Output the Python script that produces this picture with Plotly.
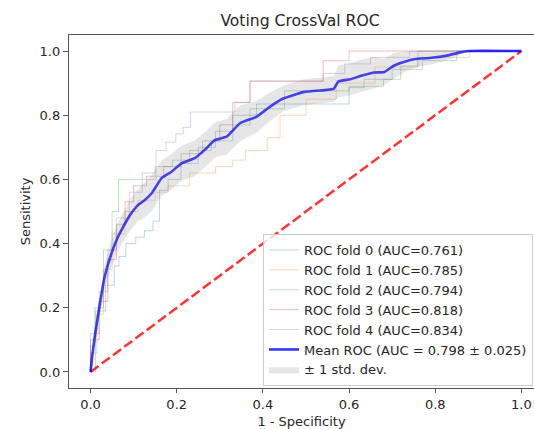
import plotly.graph_objects as go

# ---------------- data ----------------
fold_labels = ["ROC fold 0 (AUC=0.761)", "ROC fold 1 (AUC=0.785)", "ROC fold 2 (AUC=0.794)",
               "ROC fold 3 (AUC=0.818)", "ROC fold 4 (AUC=0.834)"]

fpr0 = [0, 0.012, 0.012, 0.035, 0.035, 0.055, 0.055, 0.066, 0.066, 0.082, 0.082, 0.105, 0.105, 0.125,
        0.125, 0.145, 0.145, 0.16, 0.16, 0.18, 0.18, 0.21, 0.21, 0.25, 0.25, 0.29, 0.29, 0.33, 0.33,
        0.385, 0.385, 0.60, 0.60, 0.635, 0.635, 0.70, 0.70, 0.77, 0.77, 0.85, 0.85, 1.0]
tpr0 = [0, 0, 0.19, 0.19, 0.27, 0.27, 0.33, 0.33, 0.36, 0.36, 0.40, 0.40, 0.42, 0.42, 0.44, 0.44,
        0.47, 0.47, 0.566, 0.566, 0.60, 0.60, 0.65, 0.65, 0.70, 0.70, 0.75, 0.75, 0.80, 0.80,
        0.835, 0.835, 0.886, 0.886, 0.912, 0.912, 0.943, 0.943, 0.97, 0.97, 1.0, 1.0]

fpr1 = [0, 0, 0.015, 0.015, 0.03, 0.03, 0.05, 0.05, 0.08, 0.08, 0.11, 0.11, 0.15, 0.15, 0.18, 0.18,
        0.23, 0.23, 0.29, 0.29, 0.33, 0.33, 0.36, 0.36, 0.41, 0.41, 0.44, 0.44, 0.50, 0.50, 0.57,
        0.57, 0.66, 0.66, 0.76, 0.76, 0.88, 0.88, 1.0]
tpr1 = [0, 0.06, 0.06, 0.18, 0.18, 0.32, 0.32, 0.43, 0.43, 0.50, 0.50, 0.535, 0.535, 0.56, 0.56,
        0.58, 0.58, 0.62, 0.62, 0.64, 0.64, 0.66, 0.66, 0.69, 0.69, 0.73, 0.73, 0.80, 0.80, 0.85,
        0.85, 0.90, 0.90, 0.95, 0.95, 0.98, 0.98, 1.0, 1.0]

fpr2 = [0, 0, 0.01, 0.01, 0.03, 0.03, 0.05, 0.05, 0.065, 0.065, 0.12, 0.12, 0.15, 0.15, 0.19, 0.19,
        0.23, 0.23, 0.28, 0.28, 0.33, 0.33, 0.37, 0.37, 0.45, 0.45, 0.60, 0.60, 0.68, 0.68, 0.72,
        0.72, 0.76, 0.76, 0.86, 0.86, 1.0]
tpr2 = [0, 0.08, 0.08, 0.20, 0.20, 0.38, 0.38, 0.50, 0.50, 0.60, 0.60, 0.62, 0.62, 0.64, 0.64,
        0.66, 0.66, 0.69, 0.69, 0.72, 0.72, 0.77, 0.77, 0.82, 0.82, 0.876, 0.876, 0.89, 0.89,
        0.912, 0.912, 0.953, 0.953, 1.0, 1.0]

fpr3 = [0, 0, 0.02, 0.02, 0.04, 0.04, 0.06, 0.06, 0.08, 0.08, 0.10, 0.10, 0.13, 0.13, 0.17, 0.17,
        0.21, 0.21, 0.26, 0.26, 0.30, 0.30, 0.33, 0.33, 0.37, 0.37, 0.54, 0.54, 0.60, 0.60, 1.0]
tpr3 = [0, 0.10, 0.10, 0.22, 0.22, 0.35, 0.35, 0.46, 0.46, 0.53, 0.53, 0.58, 0.58, 0.61, 0.61,
        0.64, 0.64, 0.68, 0.68, 0.72, 0.72, 0.77, 0.77, 0.84, 0.84, 0.907, 0.907, 0.97, 0.97, 1.0, 1.0]

fpr4 = [0, 0, 0.02, 0.02, 0.04, 0.04, 0.06, 0.06, 0.09, 0.09, 0.12, 0.12, 0.152, 0.152, 0.175,
        0.175, 0.198, 0.198, 0.215, 0.215, 0.232, 0.232, 0.335, 0.335, 0.37, 0.37, 0.54, 0.54,
        0.59, 0.59, 0.65, 0.65, 0.74, 0.74, 1.0]
tpr4 = [0, 0.12, 0.12, 0.25, 0.25, 0.38, 0.38, 0.48, 0.48, 0.56, 0.56, 0.60, 0.60, 0.69, 0.69,
        0.716, 0.716, 0.742, 0.742, 0.762, 0.762, 0.81, 0.81, 0.84, 0.84, 0.905, 0.905, 0.93,
        0.93, 0.96, 0.96, 0.98, 0.98, 1.0, 1.0]

mean_fpr = [0, 0.004, 0.010, 0.022, 0.033, 0.049, 0.064, 0.072, 0.084, 0.095, 0.11, 0.126, 0.142,
            0.165, 0.188, 0.211, 0.242, 0.265, 0.289, 0.316, 0.347, 0.385, 0.416, 0.447,
            0.494, 0.548, 0.565, 0.575, 0.603, 0.626, 0.658, 0.682, 0.705, 0.729, 0.753, 0.792,
            0.824, 0.855, 0.879, 1.0]
mean_tpr = [0, 0.05, 0.112, 0.215, 0.298, 0.371, 0.422, 0.443, 0.472, 0.495, 0.52, 0.536, 0.557,
            0.604, 0.624, 0.65, 0.666, 0.692, 0.723, 0.733, 0.775, 0.795, 0.826, 0.852,
            0.872, 0.879, 0.883, 0.905, 0.912, 0.922, 0.933, 0.935, 0.955, 0.967, 0.975, 0.979,
            0.985, 0.995, 1.0, 1.0]
std_tpr = [0, 0.02, 0.03, 0.035, 0.04, 0.04, 0.045, 0.045, 0.045, 0.05, 0.05, 0.055, 0.055,
           0.055, 0.055, 0.055, 0.055, 0.055, 0.055, 0.055, 0.055, 0.05, 0.045, 0.04, 0.04, 0.04,
           0.04, 0.05, 0.05, 0.05, 0.05, 0.04, 0.04, 0.032, 0.026, 0.02, 0.015, 0.008, 0, 0]

mean_label = "Mean ROC (AUC = 0.798 \u00b1 0.025)"
std_label = "\u00b1 1 std. dev."
chance_x = [0, 1]
chance_y = [0, 1]
x_ticks = [0.0, 0.2, 0.4, 0.6, 0.8, 1.0]
y_ticks = [0.0, 0.2, 0.4, 0.6, 0.8, 1.0]

# ---------------- figure ----------------
FONT = "DejaVu Sans"
fold_colors = ["rgba(31,119,180,0.3)", "rgba(255,127,14,0.3)", "rgba(44,160,44,0.3)",
               "rgba(214,39,40,0.3)", "rgba(148,103,189,0.3)"]
folds = [(fpr0, tpr0), (fpr1, tpr1), (fpr2, tpr2), (fpr3, tpr3), (fpr4, tpr4)]

fig = go.Figure()
for (fx, fy), lab, col in zip(folds, fold_labels, fold_colors):
    fig.add_trace(go.Scatter(x=fx, y=fy, mode="lines", name=lab,
                             line=dict(color=col, width=1)))

fig.add_trace(go.Scatter(x=chance_x, y=chance_y, mode="lines", showlegend=False,
                         line=dict(color="rgba(255,0,0,0.8)", width=2.5, dash="10px,4px")))

fig.add_trace(go.Scatter(x=mean_fpr, y=mean_tpr, mode="lines", name=mean_label,
                         line=dict(color="rgba(0,0,255,0.8)", width=2.6, shape="spline",
                                   smoothing=0.4)))

upper = [min(m + s, 1.0) for m, s in zip(mean_tpr, std_tpr)]
lower = [max(m - s, 0.0) for m, s in zip(mean_tpr, std_tpr)]
fig.add_trace(go.Scatter(x=mean_fpr, y=lower, mode="lines", showlegend=False,
                         line=dict(width=0, color="rgba(128,128,128,0)")))
fig.add_trace(go.Scatter(x=mean_fpr, y=upper, mode="lines", name=std_label, fill="tonexty",
                         fillcolor="rgba(128,128,128,0.2)",
                         line=dict(width=0, color="rgba(128,128,128,0)")))

W, H = 534, 429
ml, mr, mt, mb = 69, 0, 35, 41
pw = W - ml - mr
ph = H - mt - mb

fig.update_layout(
    width=W, height=H,
    margin=dict(l=ml, r=mr, t=mt, b=mb, pad=0),
    paper_bgcolor="white", plot_bgcolor="white",
    font=dict(family=FONT, size=13, color="#262626"),
    title=dict(text="Voting CrossVal ROC", x=300 / W,
               xanchor="center", y=1 - 21 / H, yanchor="middle", yref="container",
               font=dict(family=FONT, size=15.6, color="#262626")),
    showlegend=True,
    legend=dict(x=(263 - ml) / pw, xanchor="left", y=(H - mb - 234) / ph, yanchor="top",
                traceorder="normal",
                bgcolor="rgba(255,255,255,0.8)", bordercolor="#cccccc", borderwidth=1,
                font=dict(family=FONT, size=13, color="#262626"), tracegroupgap=0),
)
fig.update_xaxes(range=[-0.05, (W - 90.7) / 430.7], tickvals=x_ticks,
                 ticktext=[f"{v:.1f}" for v in x_ticks],
                 showgrid=False, zeroline=False, showline=True, linecolor="#555555",
                 linewidth=1.3, mirror=True, ticks="outside", ticklen=4, tickwidth=1,
                 tickcolor="#555555",
                 title=dict(text="1 - Specificity", standoff=6,
                            font=dict(family=FONT, size=13, color="#262626")))
fig.update_yaxes(range=[-0.05, 1.05], tickvals=y_ticks,
                 ticktext=[f"{v:.1f}" for v in y_ticks],
                 showgrid=False, zeroline=False, showline=True, linecolor="#555555",
                 linewidth=1.3, mirror=False, ticks="outside", ticklen=5, tickwidth=1,
                 tickcolor="#555555",
                 title=dict(text="Sensitivity", standoff=6,
                            font=dict(family=FONT, size=13, color="#262626")))

fig.write_html("out.html")
